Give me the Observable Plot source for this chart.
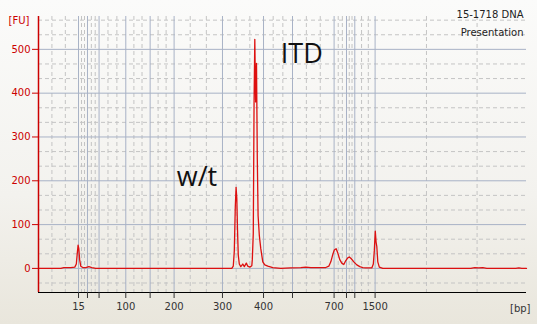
<!DOCTYPE html>
<html>
<head>
<meta charset="utf-8">
<script src="https://cdn.jsdelivr.net/npm/d3@7"></script>
<script src="https://cdn.jsdelivr.net/npm/@observablehq/plot@0.6"></script>
<style>
  html, body { margin: 0; padding: 0; }
  body { width: 537px; height: 324px; overflow: hidden;
         background: linear-gradient(180deg, #fbfbfa 0%, #f3f2ee 60%, #e9e6dc 100%); }
  #chart svg { display: block; background: transparent; }
</style>
</head>
<body>
<div id="chart"></div>
<script>
// Ladder sizes (bp) and their migration times (s) — DNA 1000 ladder
const ladderBp   = [15, 25, 50, 100, 150, 200, 300, 400, 500, 700, 850, 1000, 1500];
const ladderTime = [36.56, 38.03, 39.93, 44.31, 48.30, 52.23, 60.16, 66.89, 71.64, 78.46, 80.49, 81.85, 85.18];
const labeledBp  = [15, 100, 200, 300, 400, 700, 1500];
const extraGridTime = [32.2, 34.4, 93.6, 101.9];

// Electropherogram trace: migration time (s) and fluorescence (FU)
const traceTime = [30.00, 33.66, 34.15, 35.30, 35.95, 36.20, 36.36, 36.49, 36.61, 36.74, 36.93, 37.26, 37.75, 38.25, 38.74, 39.39,
  61.69, 61.93, 62.10, 62.26, 62.39, 62.51, 62.62, 62.75, 62.92, 63.16, 63.49, 63.74, 64.07, 64.31, 64.64, 64.97,
  65.05, 65.21, 65.34, 65.46, 65.59, 65.74, 65.87, 66.00, 66.20, 66.44, 66.77, 67.10, 67.59, 68.41, 69.72,
  71.36, 73.00, 73.82, 74.64, 77.10, 77.59, 77.92, 78.25, 78.49, 78.79, 79.07, 79.39, 79.72, 80.05, 80.38, 80.70,
  80.95, 81.28, 81.69, 82.18, 82.67, 83.16, 83.66, 84.64, 84.89, 85.05, 85.21, 85.34, 85.46, 85.62, 85.87, 86.44,
  100.87, 101.52, 102.18, 102.84, 103.49, 108.25, 108.74, 109.23, 110.00];
const traceFU = [0, 0, 2, 2, 3, 10, 35, 53, 45, 20, 5, 2, 2, 4, 2, 0,
  0, 5, 40, 140, 185, 160, 90, 30, 10, 4, 10, 4, 12, 5, 3, 6,
  20, 80, 382, 523, 380, 468, 250, 120, 75, 45, 15, 8, 5, 2, 0,
  1, 2, 3, 2, 2, 5, 15, 32, 42, 45, 35, 20, 12, 9, 18, 24,
  26, 22, 15, 8, 4, 2, 1, 1, 10, 40, 85, 60, 50, 15, 3, 0,
  0, 2, 1, 2, 0, 0, 1, 0, 0];

const yMajor = [0, 100, 200, 300, 400, 500];
const annotations = [
  {label: "ITD", time: 69.72, fu: 489},
  {label: "w/t", time: 52.67, fu: 207}
];
const titleLines = ["15-1718 DNA", "Presentation"];

const trace = traceTime.map((t, i) => ({t, fu: traceFU[i]}));

// Minor (dashed) gridlines: thirds between consecutive ladder peaks
const minorX = [...extraGridTime];
for (let i = 0; i < ladderTime.length - 1; i++) {
  const a = ladderTime[i], b = ladderTime[i + 1];
  minorX.push(a + (b - a) / 3, a + 2 * (b - a) / 3);
}
const minorY = [];
for (let v = -100; v <= 600; v += 100) {
  minorY.push(v + 100 / 3, v + 200 / 3);
}
const yDomain = [-55, 575];
const minorYIn = minorY.filter(v => v > yDomain[0] && v < yDomain[1]);

const bpByTime = new Map(ladderTime.map((t, i) => [t, ladderBp[i]]));
const FONT = "DejaVu Sans, Verdana, sans-serif";

const chart = Plot.plot({
  width: 537,
  height: 324,
  marginLeft: 38,
  marginRight: 11,
  marginTop: 16,
  marginBottom: 32,
  style: {background: "transparent", fontFamily: FONT, fontSize: "10px"},
  x: {domain: [30, 110], axis: null},
  y: {domain: yDomain, axis: null},
  marks: [
    Plot.ruleX(minorX, {stroke: "#c4c4c4", strokeDasharray: "4,3", strokeWidth: 1}),
    Plot.ruleY(minorYIn, {stroke: "#c4c4c4", strokeDasharray: "4,3", strokeWidth: 1}),
    Plot.ruleX(ladderTime, {stroke: "#a8b2c6", strokeWidth: 1}),
    Plot.ruleY(yMajor, {stroke: "#a8b2c6", strokeWidth: 1}),
    Plot.line(trace, {x: "t", y: "fu", stroke: "#dd1010", strokeWidth: 1.3}),
    Plot.ruleY([yDomain[0]], {stroke: "#000", strokeWidth: 1}),
    Plot.ruleX([30], {stroke: "#cc0000", strokeWidth: 1.5}),
    Plot.axisY({
      ticks: yMajor, tickSize: 6, tickPadding: 2, color: "#cc0000",
      fontSize: 10, label: null
    }),
    Plot.axisX({
      ticks: ladderTime, tickSize: 6, tickPadding: 4, color: "#333",
      tickFormat: t => labeledBp.includes(bpByTime.get(t)) ? String(bpByTime.get(t)) : "",
      fontSize: 10, label: null
    }),
    Plot.text(["[FU]"], {frameAnchor: "top-left", dx: -30, dy: 0, fill: "#cc0000", fontSize: 10, textAnchor: "start"}),
    Plot.text(["[bp]"], {frameAnchor: "bottom-right", dx: 4, dy: 16, fill: "#333", fontSize: 10, textAnchor: "end", lineAnchor: "middle"}),
    Plot.text(titleLines, {frameAnchor: "top-right", dx: -3, dy: 0, fill: "#222", fontSize: 10, textAnchor: "end"}),
    Plot.text(annotations, {x: "time", y: "fu", text: "label", fill: "#111", fontSize: 27,
      fontFamily: "Open Sans, sans-serif", textAnchor: "start", lineAnchor: "middle"})
  ]
});
document.getElementById("chart").appendChild(chart);

// position the two title lines (second line below the first)
const titleTexts = Array.from(chart.querySelectorAll("text")).filter(n => titleLines.includes(n.textContent));
titleTexts.forEach((n, i) => n.setAttribute("dy", `${-6 + i * 18}px`));
</script>
</body>
</html>
